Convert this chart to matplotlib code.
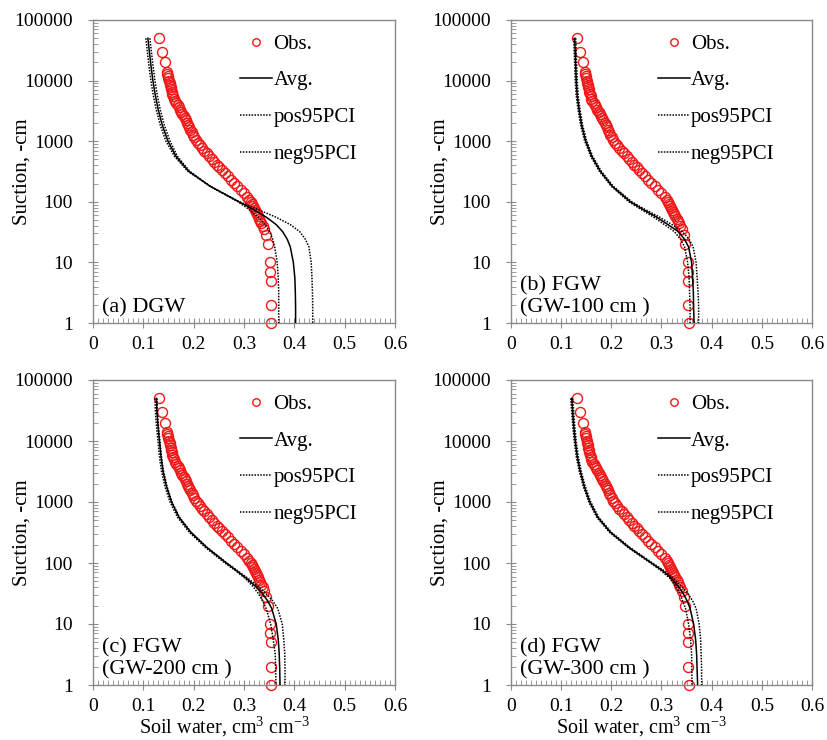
import matplotlib
matplotlib.use('Agg')
import matplotlib.pyplot as plt
from matplotlib.ticker import LogLocator, MultipleLocator, NullFormatter

plt.rcParams['font.family'] = ['Liberation Serif', 'DejaVu Serif']
plt.rcParams['mathtext.fontset'] = 'custom'
plt.rcParams['mathtext.rm'] = 'Liberation Serif'
plt.rcParams['mathtext.it'] = 'Liberation Serif:italic'

### observed retention points (same set in all four panels)
obs_h = [50000, 30000, 20000, 14000, 13000, 12000, 11000, 10000, 9200, 8500,
         7800, 7200, 6600, 6000, 5500, 5000, 4600, 4200, 3900, 3600,
         3300, 3000, 2800, 2600, 2400, 2200, 2000, 1850, 1700, 1550,
         1400, 1280, 1160, 1050, 950, 860, 780, 700, 630, 570,
         510, 460, 410, 370, 330, 295, 262, 232, 205, 180,
         158, 138, 120, 108, 100, 93, 86, 80, 74, 68,
         63, 58, 53, 48, 44, 40, 35, 28, 20, 10,
         7, 5, 2, 1]
obs_theta = [0.131, 0.137, 0.143, 0.147, 0.148, 0.149, 0.150, 0.151, 0.152, 0.153,
             0.154, 0.155, 0.156, 0.157, 0.159, 0.160, 0.162, 0.165, 0.168, 0.170,
             0.172, 0.175, 0.177, 0.180, 0.182, 0.184, 0.187, 0.189, 0.191, 0.193,
             0.196, 0.198, 0.201, 0.204, 0.208, 0.212, 0.216, 0.221, 0.226, 0.231,
             0.236, 0.241, 0.246, 0.251, 0.256, 0.262, 0.268, 0.274, 0.280, 0.287,
             0.294, 0.300, 0.306, 0.310, 0.313, 0.315, 0.317, 0.319, 0.321, 0.323,
             0.325, 0.327, 0.330, 0.332, 0.334, 0.337, 0.340, 0.344, 0.347, 0.352,
             0.352, 0.353, 0.353, 0.354]

curve_h = [50000, 30000, 18000, 10000, 5600, 3200, 1800, 1000, 560, 320,
           180, 100, 75, 56, 42, 32, 24, 18, 10, 5.6,
           3.2, 1.8, 1]

# (a) DGW
a_avg = [0.109, 0.112, 0.115, 0.119, 0.124, 0.130, 0.138, 0.149, 0.165, 0.190,
         0.233, 0.290, 0.318, 0.344, 0.364, 0.377, 0.386, 0.392, 0.398, 0.401,
         0.402, 0.4025, 0.4025]
a_pos = [0.113, 0.116, 0.119, 0.123, 0.128, 0.134, 0.142, 0.153, 0.168, 0.192,
         0.233, 0.291, 0.327, 0.363, 0.392, 0.411, 0.422, 0.429, 0.4335, 0.435,
         0.436, 0.4365, 0.4365]
a_neg = [0.105, 0.108, 0.111, 0.115, 0.120, 0.126, 0.134, 0.145, 0.162, 0.188,
         0.233, 0.288, 0.310, 0.328, 0.342, 0.351, 0.357, 0.361, 0.366, 0.368,
         0.369, 0.369, 0.369]
# (b) FGW, GW-100 cm
b_avg = [0.127, 0.128, 0.129, 0.130, 0.132, 0.136, 0.141, 0.149, 0.161, 0.178,
         0.202, 0.238, 0.263, 0.290, 0.313, 0.334, 0.346, 0.354, 0.360, 0.362,
         0.3635, 0.364, 0.365]
b_pos = [0.129, 0.130, 0.131, 0.132, 0.134, 0.138, 0.143, 0.151, 0.163, 0.180,
         0.204, 0.241, 0.267, 0.296, 0.321, 0.342, 0.355, 0.363, 0.369, 0.371,
         0.373, 0.374, 0.374]
b_neg = [0.125, 0.126, 0.127, 0.128, 0.130, 0.134, 0.139, 0.147, 0.159, 0.176,
         0.200, 0.235, 0.259, 0.284, 0.306, 0.326, 0.338, 0.346, 0.352, 0.355,
         0.356, 0.357, 0.357]
# (c) FGW, GW-200 cm
c_avg = [0.126, 0.127, 0.129, 0.132, 0.135, 0.139, 0.146, 0.156, 0.171, 0.194,
         0.226, 0.265, 0.285, 0.305, 0.322, 0.336, 0.347, 0.355, 0.364, 0.368,
         0.370, 0.371, 0.3716]
c_pos = [0.127, 0.128, 0.130, 0.133, 0.136, 0.140, 0.147, 0.157, 0.172, 0.195,
         0.227, 0.266, 0.287, 0.308, 0.327, 0.343, 0.357, 0.367, 0.376, 0.379,
         0.381, 0.3815, 0.3815]
c_neg = [0.123, 0.124, 0.126, 0.129, 0.132, 0.136, 0.143, 0.153, 0.168, 0.191,
         0.223, 0.262, 0.283, 0.302, 0.317, 0.328, 0.337, 0.344, 0.353, 0.358,
         0.362, 0.363, 0.3636]
# (d) FGW, GW-300 cm
d_avg = [0.121, 0.123, 0.125, 0.128, 0.132, 0.138, 0.146, 0.157, 0.173, 0.198,
         0.235, 0.280, 0.302, 0.320, 0.333, 0.343, 0.351, 0.357, 0.364, 0.368,
         0.370, 0.371, 0.372]
d_pos = [0.123, 0.125, 0.127, 0.130, 0.134, 0.140, 0.148, 0.159, 0.175, 0.200,
         0.237, 0.282, 0.305, 0.324, 0.339, 0.352, 0.362, 0.369, 0.375, 0.378,
         0.379, 0.380, 0.380]
d_neg = [0.119, 0.121, 0.123, 0.126, 0.130, 0.136, 0.144, 0.155, 0.171, 0.196,
         0.233, 0.278, 0.299, 0.317, 0.328, 0.336, 0.342, 0.348, 0.354, 0.358,
         0.360, 0.3605, 0.3608]

panel_text = ['(a) DGW', '(b) FGW\n(GW-100 cm )', '(c) FGW\n(GW-200 cm )', '(d) FGW\n(GW-300 cm )']
legend_labels = ['Obs.', 'Avg.', 'pos95PCI', 'neg95PCI']
x_ticks = [0, 0.1, 0.2, 0.3, 0.4, 0.5, 0.6]
x_tick_labels = ['0', '0.1', '0.2', '0.3', '0.4', '0.5', '0.6']
y_ticks = [1, 10, 100, 1000, 10000, 100000]
y_tick_labels = ['1', '10', '100', '1000', '10000', '100000']

W, H = 828, 740
# axes boxes in pixels: left, top, right, bottom
boxes = [(93, 20, 395, 323), (511, 20, 812, 323), (93, 380, 395, 685), (511, 380, 812, 685)]
AXC = '#8a8a8a'
DOTS = (0, (1, 0.9))


def draw_panel(ax, avg, pos, neg, text, bottom_row, box_bottom):
	ax.plot(obs_theta, obs_h, 'o', mfc='none', mec='#f01818', ms=7.2, mew=1.0,
	        clip_on=False, zorder=2, label=legend_labels[0])
	ax.plot(avg, curve_h, '-', color='black', lw=1.1, zorder=3, label=legend_labels[1])
	ax.plot(pos, curve_h, color='black', lw=1.1, ls=DOTS, zorder=3, label=legend_labels[2])
	ax.plot(neg, curve_h, color='black', lw=1.1, ls=DOTS, zorder=3, label=legend_labels[3])

	ax.set_yscale('log')
	ax.set_ylim(1, 100000)
	ax.set_xlim(0, 0.6)
	ax.set_xticks(x_ticks)
	ax.set_xticklabels(x_tick_labels)
	ax.set_yticks(y_ticks)
	ax.set_yticklabels(y_tick_labels)
	ax.xaxis.set_minor_locator(MultipleLocator(0.01))
	ax.yaxis.set_minor_locator(LogLocator(base=10, subs=(2, 3, 4, 5, 6, 7, 8, 9), numticks=20))
	ax.yaxis.set_minor_formatter(NullFormatter())

	for s in ax.spines.values():
		s.set_color(AXC)
		s.set_linewidth(1.0)
	ax.tick_params(which='major', direction='inout', length=7, width=0.8, color=AXC, labelsize=14)
	ax.tick_params(which='minor', direction='in', length=3.5, width=0.6, color=AXC)
	ax.tick_params(axis='x', which='major', pad=6)
	ax.tick_params(axis='y', which='major', pad=11)

	ax.set_ylabel('Suction, -cm', fontsize=15)
	ax.yaxis.set_label_coords(-0.205, 0.5)
	if bottom_row:
		# keep the label's lower edge just inside the figure
		ax.set_xlabel('Soil water, cm$^{3}$ cm$^{-3}$', fontsize=14.5, va='bottom')
		ax.xaxis.set_label_coords(0.434, -(H - 1 - box_bottom) / (box_bottom - 380))

	ax.text(0.03, 0.018, text, transform=ax.transAxes, fontsize=16,
	        ha='left', va='bottom', linespacing=1.2)

	ax.legend(loc='upper left', bbox_to_anchor=(0.487, 0.953), frameon=False, fontsize=15,
	          handlelength=1.55, handletextpad=0.05, labelspacing=0.82, borderpad=0,
	          borderaxespad=0, markerscale=0.75)


fig = plt.figure(figsize=(W / 100, H / 100), dpi=100)
curves = [(a_avg, a_pos, a_neg), (b_avg, b_pos, b_neg), (c_avg, c_pos, c_neg), (d_avg, d_pos, d_neg)]
for i in range(4):
	l, t, r, b = boxes[i]
	ax = fig.add_axes([l / W, 1 - b / H, (r - l) / W, (b - t) / H])
	draw_panel(ax, curves[i][0], curves[i][1], curves[i][2], panel_text[i], i >= 2, b)

fig.savefig('out.png', dpi=100, facecolor='white')
